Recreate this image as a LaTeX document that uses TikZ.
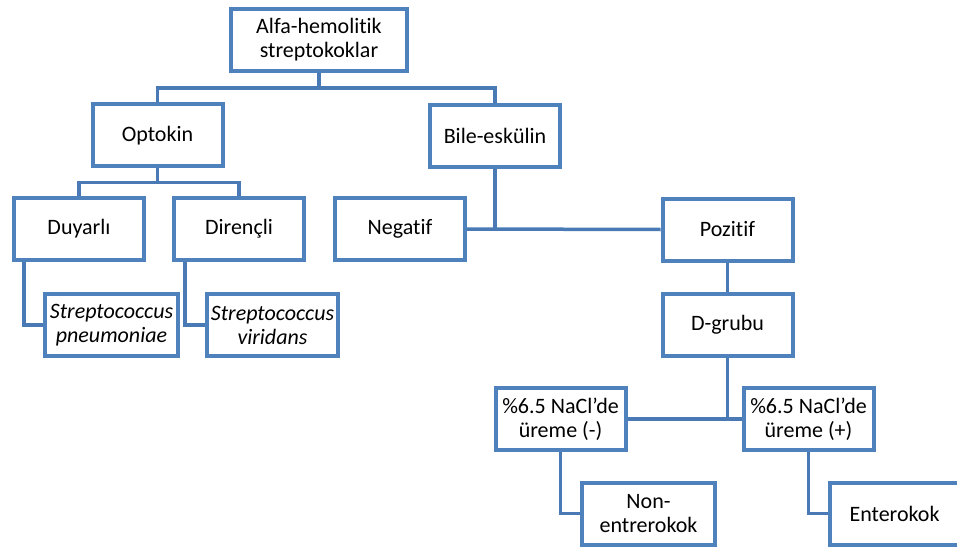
\documentclass[tikz,border=0pt]{standalone}
\usepackage{fontspec}
\setmainfont{Carlito}[Ligatures={NoCommon}]
\usepackage{xcolor}
\usetikzlibrary{positioning}
\definecolor{BoxBlue} {RGB}{79, 129, 189}
\definecolor{LinkBlue}{RGB}{74, 122, 182}

\begin{document}
\begin{tikzpicture}[
    x=1pt, y=-1pt,
    box/.style={draw=BoxBlue, fill=white, line width=4pt, align=center, minimum width=130pt, minimum height=62pt, inner sep=2pt, font=\fontsize{22}{24}\selectfont},
    link/.style={draw=LinkBlue, line width=3.5pt}
]
    \useasboundingbox (0,0) rectangle (957,548);
    \clip (0,0) rectangle (957,548);

    % Nodes
    \node[box, minimum width=176pt] (root) at (319,40) {Alfa-hemolitik\\streptokoklar};

    \node[box] (optokin) at (157.5,135.5) {Optokin};
    \node[box] (bile)    at (495,136)     {Bile-eskülin};

    \node[box] (duyarli)  at (79,229)    {Duyarlı};
    \node[box] (direncli) at (239,229)   {Dirençli};
    \node[box] (negatif)  at (400,229)   {Negatif};
    \node[box] (pozitif)  at (727.5,229.5) {Pozitif};

    \node[box, minimum width=133pt] (pneumo)   at (111.5,325) {\itshape Streptococcus\\\itshape pneumoniae};
    \node[box, minimum width=131pt] (viridans) at (272.5,325) {\itshape Streptococcus\\\itshape viridans};
    \node[box] (dgrubu) at (727.5,324.5) {D-grubu};

    \node[box] (naclneg) at (560.5,419) {\%6.5 NaCl’de\\üreme (-)};
    \node[box] (naclpos) at (808.5,419) {\%6.5 NaCl’de\\üreme (+)};

    \node[box, minimum width=133pt] (nonent) at (648.5,513.5) {Non-\\entrerokok};
    \node[box] (entero) at (894.5,513.5) {Enterokok};

    % Edges
    \draw[link] (root.south) -- ++(0,15) coordinate (rootjoin);
    \draw[link] (rootjoin) -| (optokin.north);
    \draw[link] (rootjoin) -| (bile.north);

    \draw[link] (optokin.south) -- ++(0,14) coordinate (optojoin);
    \draw[link] (optojoin) -| (duyarli.north);
    \draw[link] (optojoin) -| (direncli.north);

    \draw[link] (bile.south) -- (bile.south |- negatif.east);
    \draw[link] (negatif.east) -- (pozitif.west);

    \draw[link] ([xshift=12pt]duyarli.south west) |- (pneumo.west);
    \draw[link] ([xshift=13pt]direncli.south west) |- (viridans.west);

    \draw[link] (pozitif) -- (dgrubu);
    \draw[link] (dgrubu.south) -- (dgrubu.south |- naclneg.east);
    \draw[link] (naclneg.east) -- (naclpos.west);

    \draw[link] (naclneg.south) |- (nonent.west);
    \draw[link] (naclpos.south) |- (entero.west);

\end{tikzpicture}
\end{document}
